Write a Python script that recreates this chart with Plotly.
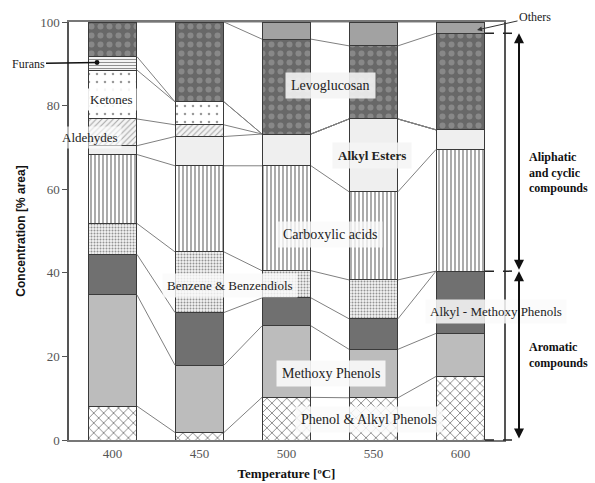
import plotly.graph_objects as go

temperatures = ["400", "450", "500", "550", "600"]

phenol_alkyl_phenols = [8.1, 1.8, 10.2, 10.1, 15.2]
methoxy_phenols = [26.6, 16.1, 17.1, 11.6, 10.3]
alkyl_methoxy_phenols = [9.7, 12.6, 6.7, 7.3, 14.9]
benzene_benzendiols = [7.4, 14.5, 6.5, 9.3, 0.0]
carboxylic_acids = [16.5, 20.6, 25.1, 21.1, 29.1]
alkyl_esters = [2.1, 7.0, 7.6, 17.4, 4.7]
aldehydes = [6.4, 2.8, 0.0, 0.0, 0.0]
ketones = [11.7, 5.5, 0.0, 0.0, 0.0]
furans = [3.2, 0.0, 0.0, 0.0, 0.0]
levoglucosan = [8.3, 19.1, 22.7, 17.5, 23.1]
others = [0.0, 0.0, 4.1, 5.7, 2.7]

series = [
    ("Phenol & Alkyl Phenols", phenol_alkyl_phenols, dict(color="white", pattern=dict(shape="x", fgcolor="#111", bgcolor="white", size=7, solidity=0.25))),
    ("Methoxy Phenols", methoxy_phenols, dict(color="#bcbcbc")),
    ("Alkyl - Methoxy Phenols", alkyl_methoxy_phenols, dict(color="#707070")),
    ("Benzene & Benzendiols", benzene_benzendiols, dict(color="#e6e6e6", pattern=dict(shape=".", fgcolor="#333", bgcolor="#f2f2f2", size=3, solidity=0.35))),
    ("Carboxylic acids", carboxylic_acids, dict(color="white", pattern=dict(shape="|", fgcolor="#111", bgcolor="white", size=4, solidity=0.35))),
    ("Alkyl Esters", alkyl_esters, dict(color="#efefef")),
    ("Aldehydes", aldehydes, dict(color="white", pattern=dict(shape="/", fgcolor="#555", bgcolor="#f4f4f4", size=4, solidity=0.25))),
    ("Ketones", ketones, dict(color="white", pattern=dict(shape=".", fgcolor="#333", bgcolor="white", size=8, solidity=0.08))),
    ("Furans", furans, dict(color="white", pattern=dict(shape="-", fgcolor="#222", bgcolor="white", size=3, solidity=0.4))),
    ("Levoglucosan", levoglucosan, dict(color="#6a6a6a", pattern=dict(shape=".", fgcolor="#a8a8a8", bgcolor="#686868", size=9, solidity=0.35))),
    ("Others", others, dict(color="#a2a2a2")),
]

xs = list(range(len(temperatures)))
bar_w = 0.563

fig = go.Figure()
for name, vals, marker in series:
    m = dict(marker)
    m["line"] = dict(color="#3a3a3a", width=1)
    fig.add_trace(go.Bar(x=xs, y=vals, name=name, width=bar_w, marker=m, showlegend=False))

# series lines connecting stacked segment tops between bars
cum = [0.0] * len(xs)
for name, vals, _ in series:
    cum = [c + v for c, v in zip(cum, vals)]
    lx, ly = [], []
    for i in range(len(xs) - 1):
        lx += [xs[i] + bar_w / 2, xs[i + 1] - bar_w / 2, None]
        ly += [cum[i], cum[i + 1], None]
    fig.add_trace(go.Scatter(x=lx, y=ly, mode="lines", line=dict(color="#808080", width=1),
                             showlegend=False, hoverinfo="skip"))

L, R, T, B = 69, 91, 22, 43
W, H = 595, 483
PW, PH = W - L - R, H - T - B

def px2x(px):
    return (px - L) / PW * 5 - 0.5

def py2y(py):
    return (H - B - py) / PH * 100

serif = "Liberation Serif"
anns = []
def label(text, cx, cy, size=14, bold=False, bg="rgba(244,244,244,0.9)", pad=5):
    anns.append(dict(x=px2x(cx), y=py2y(cy), text=("<b>%s</b>" % text) if bold else text,
                     showarrow=False, font=dict(family=serif, size=size, color="#222"),
                     bgcolor=bg, borderpad=pad))

label("Levoglucosan", 330, 85, 14)
label("Ketones", 111, 99, 13, bg="rgba(255,255,255,0.9)", pad=3)
label("Aldehydes", 90, 137, 13, bg="rgba(255,255,255,0.6)", pad=3)
label("Alkyl Esters", 372, 155, 13, bold=True, bg="rgba(244,244,244,0.85)", pad=5)
label("Carboxylic acids", 330, 234, 14, bg="rgba(250,250,250,0.8)", pad=5)
label("Benzene & Benzendiols", 230, 285, 13, bg="rgba(250,250,250,0.8)", pad=4)
label("Alkyl - Methoxy Phenols", 496, 311, 13, bg="rgba(250,250,250,0.85)", pad=4)
label("Methoxy Phenols", 331, 373, 14, bg="rgba(250,250,250,0.9)", pad=5)
label("Phenol & Alkyl Phenols", 369, 419, 14, bg="rgba(250,250,250,0.85)", pad=5)

# Furans pointer
anns.append(dict(x=px2x(97), y=py2y(62.5), ax=-69, ay=1, text="Furans", showarrow=True,
                 arrowhead=6, arrowsize=0.8, arrowwidth=1.5, arrowcolor="#111",
                 font=dict(family=serif, size=12, color="#222")))
# Others pointer
anns.append(dict(x=px2x(477), y=py2y(30), ax=58, ay=-13, text="Others", showarrow=True,
                 arrowhead=2, arrowsize=1, arrowwidth=1, arrowcolor="#333",
                 font=dict(family=serif, size=12, color="#222")))

# group brackets on the right, derived from the 600 °C bar
last = len(xs) - 1
aromatic_top = phenol_alkyl_phenols[last] + methoxy_phenols[last] + alkyl_methoxy_phenols[last] + benzene_benzendiols[last]
aliphatic_top = aromatic_top + carboxylic_acids[last] + alkyl_esters[last] + aldehydes[last] + ketones[last] + furans[last] + levoglucosan[last]
bar_right_paper = (xs[last] + bar_w / 2 + 0.5) / 5
arrow_x = (519 - L) / PW

shapes = []
for v in [aliphatic_top, aromatic_top, 0]:
    shapes.append(dict(type="line", xref="paper", yref="paper", x0=bar_right_paper, x1=arrow_x,
                       y0=v / 100, y1=v / 100, line=dict(color="#222", width=1.5, dash="dash")))

for top, bot in [(aliphatic_top, aromatic_top), (aromatic_top, 0)]:
    anns.append(dict(xref="paper", yref="paper", x=arrow_x, y=top / 100, ax=0,
                     ay=(top - bot) / 100 * PH, text="", showarrow=True, arrowside="end+start",
                     arrowhead=2, arrowsize=1, arrowwidth=2, arrowcolor="#111", standoff=0, startstandoff=0))

anns.append(dict(xref="paper", yref="paper", x=(527 - L) / PW, y=(H - B - 148) / PH, xanchor="left",
                 text="<b>Aliphatic<br>and cyclic<br>compounds</b>", showarrow=False, align="left",
                 font=dict(family=serif, size=12, color="#111")))
anns.append(dict(xref="paper", yref="paper", x=(527 - L) / PW, y=(H - B - 372) / PH, xanchor="left",
                 text="<b>Aromatic<br>compounds</b>", showarrow=False, align="left",
                 font=dict(family=serif, size=12, color="#111")))

fig.update_layout(
    barmode="stack",
    bargap=0.437,
    width=W, height=H,
    margin=dict(l=L, r=R, t=T, b=B, autoexpand=False),
    paper_bgcolor="white", plot_bgcolor="white",
    annotations=anns, shapes=shapes,
    xaxis=dict(range=[-0.5, 4.5], tickvals=xs, ticktext=temperatures, showgrid=False, zeroline=False,
               showline=True, linecolor="#777", linewidth=2, mirror=True, ticks="", automargin=False,
               tickfont=dict(family=serif, size=13, color="#555"),
               title=dict(text="<b>Temperature [ºC]</b>", font=dict(family=serif, size=13, color="#111"), standoff=9)),
    yaxis=dict(range=[0, 100], tickvals=[0, 20, 40, 60, 80, 100], showgrid=False, zeroline=False,
               showline=True, linecolor="#555", linewidth=1.5, mirror=True, ticks="outside", ticklen=5,
               automargin=False,
               tickcolor="#555", tickfont=dict(family=serif, size=13, color="#555"),
               title=dict(text="<b>Concentration [% area]</b>", font=dict(family="Liberation Sans", size=12, color="#111"), standoff=12)),
)

fig.write_html("out.html")
